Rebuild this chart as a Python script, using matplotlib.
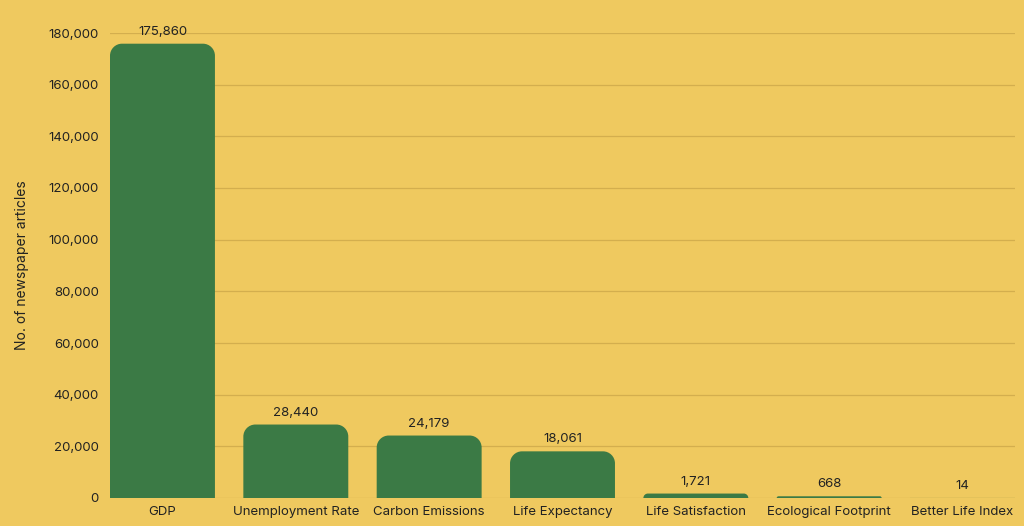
import matplotlib
matplotlib.use("Agg")
import matplotlib.pyplot as plt
from matplotlib.path import Path
from matplotlib.patches import PathPatch

categories = ["GDP", "Unemployment Rate", "Carbon Emissions", "Life Expectancy",
              "Life Satisfaction", "Ecological Footprint", "Better Life Index"]
values = [175860, 28440, 24179, 18061, 1721, 668, 14]
yticks = list(range(0, 180001, 20000))

BG = "#EFC95F"
BAR = "#3B7A45"
GRID = "#D3AE4E"
TXT = "#222222"

plt.rcParams['font.family'] = ['Inter', 'DejaVu Sans']

fig = plt.figure(figsize=(10.24, 5.26), dpi=100, facecolor=BG)
ax = fig.add_axes([110/1024, 1-498/526, (1015-110)/1024, (498-33)/526])
ax.set_facecolor(BG)

width = 0.787
xlim = (-width/2, len(categories)-1+width/2)
ylim = (0, 180000)
ax.set_xlim(*xlim)
ax.set_ylim(*ylim)

bbox = ax.get_position()
ax_w_px = bbox.width * 1024
ax_h_px = bbox.height * 526
px_x = (xlim[1]-xlim[0]) / ax_w_px
px_y = (ylim[1]-ylim[0]) / ax_h_px

r_px = 12
for i, v in enumerate(values):
    x0, x1 = i - width/2, i + width/2
    h_px = v / px_y
    r = min(r_px, h_px)
    rx, ry = r*px_x, r*px_y
    k = 0.5523
    verts = [(x0, 0), (x0, v-ry),
             (x0, v-ry+k*ry), (x0+rx-k*rx, v), (x0+rx, v),
             (x1-rx, v),
             (x1-rx+k*rx, v), (x1, v-ry+k*ry), (x1, v-ry),
             (x1, 0), (x0, 0)]
    codes = [Path.MOVETO, Path.LINETO,
             Path.CURVE4, Path.CURVE4, Path.CURVE4,
             Path.LINETO,
             Path.CURVE4, Path.CURVE4, Path.CURVE4,
             Path.LINETO, Path.CLOSEPOLY]
    ax.add_patch(PathPatch(Path(verts, codes), facecolor=BAR, edgecolor='none', zorder=3))
    ax.text(i, v + 6*px_y, f"{v:,}", ha='center', va='bottom', fontsize=9.5, color=TXT, zorder=4)

ax.set_yticks(yticks)
ax.set_yticklabels([f"{t:,}" for t in yticks], fontsize=9.5, color=TXT)
ax.set_xticks(range(len(categories)))
ax.set_xticklabels(categories, fontsize=9.5, color=TXT)
ax.tick_params(axis='both', length=0, pad=8)
ax.tick_params(axis='x', pad=6)
ax.grid(axis='y', color=GRID, linewidth=0.9, zorder=0)
ax.set_axisbelow(True)
for s in ax.spines.values():
    s.set_visible(False)

ax.set_ylabel("No. of newspaper articles", fontsize=10, color=TXT, labelpad=14)

fig.savefig("out.png", dpi=100, facecolor=BG)
